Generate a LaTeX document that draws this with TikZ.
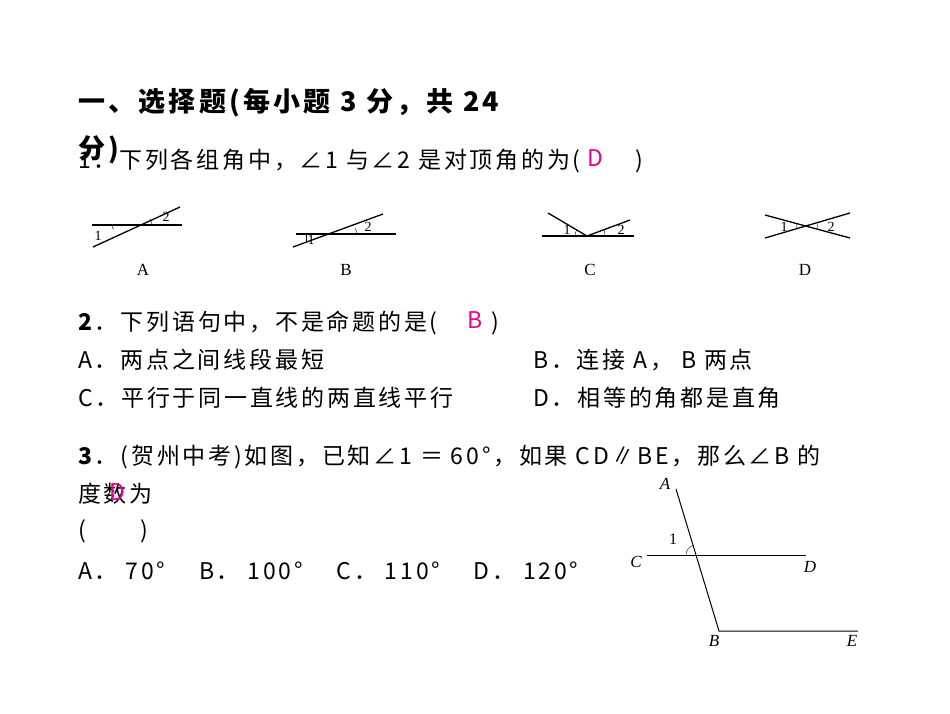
\documentclass[tikz,border=0pt]{standalone}
\usepackage{fontspec}
\setmainfont[LetterSpace=12]{Noto Sans CJK SC}
\newfontfamily\figfont{Liberation Serif}
\begin{document}
\begin{tikzpicture}[x=1pt,y=-1pt,
  txt/.style={anchor=west,inner sep=0pt,font=\fontsize{23}{26}\selectfont},
  ans/.style={inner sep=0pt,text=magenta,font=\fontsize{23}{26}\selectfont},
  fl/.style={inner sep=0pt,font=\figfont\fontsize{14}{15}\selectfont},
  gl/.style={inner sep=0pt,font=\figfont\itshape\fontsize{17}{18}\selectfont},
  ln/.style={line width=1.3pt}]
\useasboundingbox[fill=white] (0,0) rectangle (950,713);
\node[txt,font=\bfseries\fontsize{27}{30}\selectfont] (t1) at (78,103) {一、选择题(每小题 3 分，共 24};
\node[txt,font=\bfseries\fontsize{27}{30}\selectfont] (t2) at (78,150) {分)};
\node[txt] (q1) at (78,161) {1．下列各组角中，∠1 与∠2 是对顶角的为(　　)};
\node[ans] (a1) at (595,158) {D};
% figure A
\draw[ln] (92,225) -- (182,225); \draw[ln] (93,247) -- (180,207);
\draw (112,225) arc (-180:-220:7);
\draw (152,225) arc (0:-40:9);
\node[fl] (la1) at (98,236) {1}; \node[fl] (la2) at (166,217) {2};
\node[fl,font=\figfont\fontsize{17}{18}\selectfont] (LA) at (143,270) {A};
% figure B
\draw[ln] (296,234) -- (396,234); \draw[ln] (293,247) -- (383,214);
\draw (306,234) -- (306,242); \node[fl] (lb1) at (311,240) {1};
\draw (357,234) arc (0:-40:9); \node[fl] (lb2) at (368,227) {2};
\node[fl,font=\figfont\fontsize{17}{18}\selectfont] (LB) at (346,270) {B};
% figure C
\draw[ln] (542,236) -- (634,236); \draw[ln] (548,213) -- (587,236) -- (630,220);
\draw (575,236) arc (-180:-150:12); \node[fl] (lc1) at (567,230) {1};
\draw (605,236) arc (0:-20:18); \node[fl] (lc2) at (621,230) {2};
\node[fl,font=\figfont\fontsize{17}{18}\selectfont] (LC) at (590,270) {C};
% figure D
\draw[ln] (765,215) -- (850,238); \draw[ln] (765,238) -- (850,213);
\draw (797,223.5) arc (-165:-195:10); \draw (817,223.5) arc (-15:15:10);
\node[fl] (ld1) at (784,227) {1}; \node[fl] (ld2) at (831,227) {2};
\node[fl,font=\figfont\fontsize{17}{18}\selectfont] (LD) at (805,270) {D};
% question 2
\node[txt] (q2) at (78,323) {\textbf{2}．下列语句中，不是命题的是(　　)};
\node[ans] (a2) at (475,320) {B};
\node[txt] (o2a) at (78,360) {A．两点之间线段最短};
\node[txt] (o2b) at (533,360) {B．连接 A， B 两点};
\node[txt] (o2c) at (78,398) {C．平行于同一直线的两直线平行};
\node[txt] (o2d) at (533,398) {D．相等的角都是直角};
% question 3
\node[txt] (q3) at (78,457) {\textbf{3}．(贺州中考)如图，已知∠1 ＝ 60°，如果 CD∥BE，那么∠B 的};
\node[txt] (q3b) at (78,494) {度数为};
\node[ans] (a3) at (117,492) {D};
\node[txt] (q3c) at (78,531) {(　　)};
\node[txt] (o3) at (78,571) {A． 70°　 B． 100°　 C． 110°　 D． 120°};
% figure 3
\coordinate (A) at (676,489); \coordinate (B) at (719,631);
\coordinate (C) at (647,555); \coordinate (D) at (806,555);
\coordinate (E) at (858,631); \coordinate (X) at (696,555);
\draw[line width=1pt] (A) -- (B) -- (E); \draw[line width=1pt] (C) -- (D);
\draw (X) ++(-180:10) arc (-180:-107:10);
\node[gl] (lA) at (665,484) {A}; \node[gl] (lC) at (636,562) {C};
\node[gl] (lD) at (810,567) {D}; \node[gl] (lB) at (714,641) {B};
\node[gl] (lE) at (852,641) {E};
\node[fl,font=\figfont\fontsize{16}{17}\selectfont] (l1) at (673,539) {1};
\end{tikzpicture}
\end{document}
